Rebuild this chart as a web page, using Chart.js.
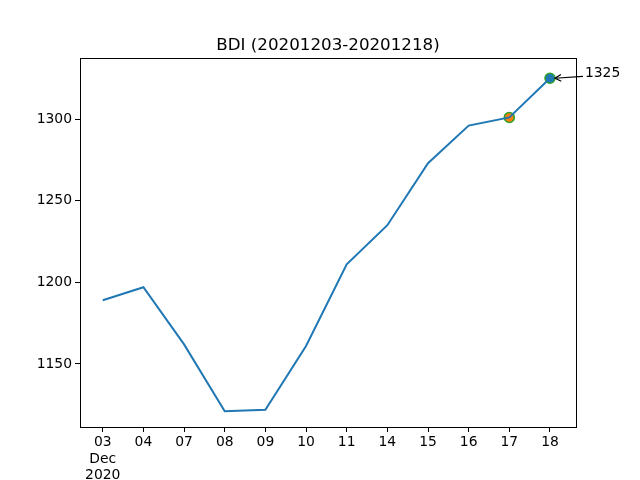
<!DOCTYPE html>
<html>
<head>
<meta charset="utf-8">
<script src="https://cdn.jsdelivr.net/npm/chart.js@4/dist/chart.umd.min.js"></script>
<style>
  html, body { margin: 0; padding: 0; background: #fff; }
  #wrap { width: 640px; height: 480px; }
</style>
</head>
<body>
<div id="wrap"><canvas id="bdi" width="640" height="480"></canvas></div>
<script>
const days = ['03', '04', '07', '08', '09', '10', '11', '14', '15', '16', '17', '18'];
const bdi = [1189, 1197, 1162, 1121, 1122, 1161, 1211, 1235, 1273, 1296, 1301, 1325];
const yTicks = [1150, 1200, 1250, 1300];
const title = 'BDI (20201203-20201218)';
// highlighted points: index, fill colour
const marks = [10, 11];
const markFill = ['#ff7f0e', '#1f77b4'];
// annotation text position (x index, y value)
const note = [11.86, 1328];

var linePts = [];
for (i = 0; i < days.length; i++) {
    linePts.push({x: i, y: bdi[i]});
}
var markPts = marks.map(function (m) { return {x: m, y: bdi[m]}; });

const fnt = {family: 'DejaVu Sans', size: 13.9};

// title over the plot box, four spines, arrow annotation
const extras = {
    id: 'extras',
    afterDraw(chart) {
        const c = chart.ctx, a = chart.chartArea;
        c.save();
        c.fillStyle = '#000';
        c.font = '16.7px DejaVu Sans';
        c.textAlign = 'center';
        c.textBaseline = 'alphabetic';
        c.fillText(title, (a.left + a.right) / 2, a.top - 8);

        c.strokeStyle = '#000';
        c.lineWidth = 1;
        c.strokeRect(Math.round(a.left) + 0.5, Math.round(a.top) + 0.5,
            Math.round(a.right - a.left), Math.round(a.bottom - a.top));

        const xs = chart.scales.x, ys = chart.scales.y;
        const last = bdi.length - 1;
        const px = xs.getPixelForValue(last), py = ys.getPixelForValue(bdi[last]);
        const tx = xs.getPixelForValue(note[0]), ty = ys.getPixelForValue(note[1]);
        c.font = '13.9px DejaVu Sans';
        c.textBaseline = 'middle';
        c.textAlign = 'left';
        c.fillText(String(bdi[last]), tx, ty);
        // arrow
        const sx = tx - 2, sy = ty + 3;
        const ex = px + 5, ey = py;
        c.lineWidth = 1.2;
        c.beginPath();
        c.moveTo(sx, sy);
        c.lineTo(ex, ey);
        c.stroke();
        const ang = Math.atan2(ey - sy, ex - sx);
        c.beginPath();
        c.moveTo(ex - 7 * Math.cos(ang - 0.5), ey - 7 * Math.sin(ang - 0.5));
        c.lineTo(ex, ey);
        c.lineTo(ex - 7 * Math.cos(ang + 0.5), ey - 7 * Math.sin(ang + 0.5));
        c.stroke();
        c.restore();
    }
};

new Chart(document.getElementById('bdi'), {
    type: 'scatter',
    data: {
        datasets: [{
            data: linePts,
            showLine: true,
            borderColor: '#1f77b4',
            borderWidth: 2,
            pointRadius: 0,
            pointHoverRadius: 0,
            tension: 0
        }, {
            data: markPts,
            showLine: false,
            pointRadius: 5,
            backgroundColor: markFill,
            borderColor: '#2ca02c',
            borderWidth: 1.5
        }]
    },
    options: {
        responsive: false,
        animation: false,
        layout: {padding: {left: 0, right: 64, top: 58, bottom: 0}},
        plugins: {
            legend: {display: false},
            tooltip: {enabled: false},
            title: {display: false}
        },
        scales: {
            x: {
                type: 'linear',
                min: -0.56,
                max: 11.64,
                afterBuildTicks: function (s) { s.ticks = days.map(function (d, i) { return {value: i}; }); },
                afterFit: function (s) { s.height = 53; },
                border: {display: false},
                grid: {drawOnChartArea: false, tickLength: 5, tickColor: '#000'},
                ticks: {
                    color: '#000',
                    font: fnt,
                    padding: 2,
                    maxRotation: 0,
                    autoSkip: false,
                    callback: function (v) {
                        if (v === 0) return [days[0], 'Dec', '2020'];
                        return days[v];
                    }
                }
            },
            y: {
                min: 1111.4,
                max: 1337.4,
                afterBuildTicks: function (s) { s.ticks = yTicks.map(function (v) { return {value: v}; }); },
                afterFit: function (s) { s.width = 80; },
                border: {display: false},
                grid: {drawOnChartArea: false, tickLength: 5, tickColor: '#000'},
                ticks: {
                    color: '#000', font: fnt, padding: 3,
                    callback: function (v) { return String(v); }
                }
            }
        }
    },
    plugins: [extras]
});
</script>
</body>
</html>
